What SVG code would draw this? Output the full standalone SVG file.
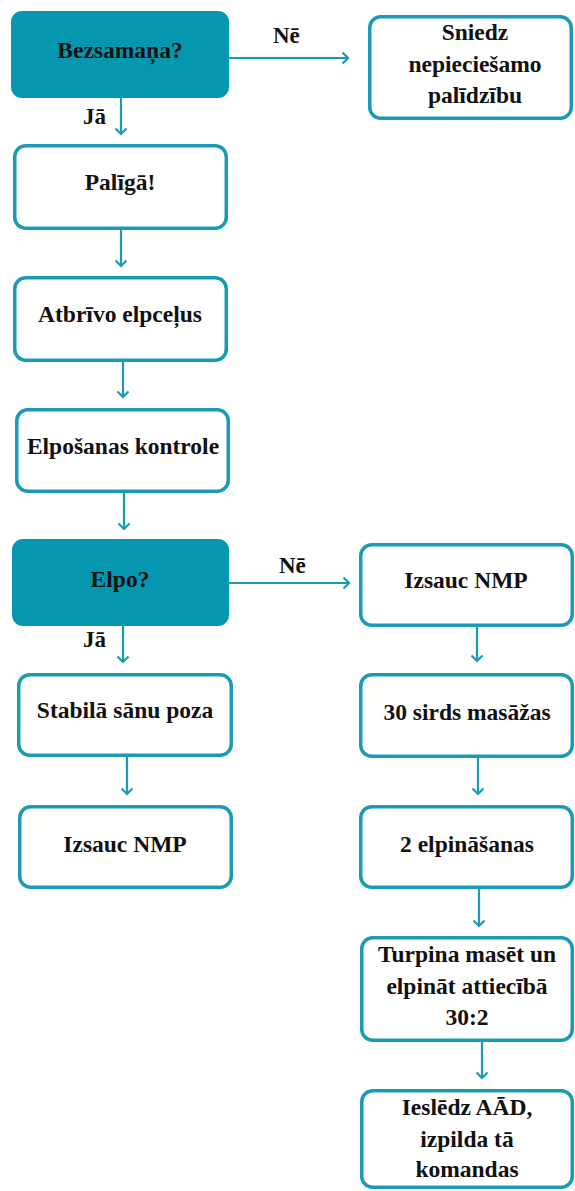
<svg xmlns="http://www.w3.org/2000/svg" width="575" height="1191" viewBox="0 0 575 1191">
<style>
.box{fill:#ffffff;stroke:#1a9bb5;stroke-width:3.5}
.dec{fill:#0596b0;stroke:none}
.t{font-family:'Liberation Serif','DejaVu Serif',serif;font-weight:700;font-size:23.5px;fill:#111111;text-anchor:middle}
.lbl{font-family:'Liberation Serif','DejaVu Serif',serif;font-weight:700;font-size:23px;fill:#111111}
.c{stroke:#1a9bb5;stroke-width:2.2;fill:none}
</style>
<defs>
<marker id="ah" markerUnits="userSpaceOnUse" markerWidth="14" markerHeight="14" viewBox="0 0 14 14" refX="7" refY="7" orient="auto">
<path d="M1.5,1.5 L7,7 L1.5,12.5" fill="none" stroke="#1a9bb5" stroke-width="2.2"/>
</marker>
</defs>
<g id="connectors">
<line class="c" x1="229" y1="58" x2="348" y2="58" marker-end="url(#ah)"/>
<line class="c" x1="121" y1="98" x2="121" y2="134" marker-end="url(#ah)"/>
<line class="c" x1="121" y1="230" x2="121" y2="266" marker-end="url(#ah)"/>
<line class="c" x1="123" y1="362" x2="123" y2="397" marker-end="url(#ah)"/>
<line class="c" x1="124" y1="493" x2="124" y2="529" marker-end="url(#ah)"/>
<line class="c" x1="229" y1="583" x2="349" y2="583" marker-end="url(#ah)"/>
<line class="c" x1="123" y1="626" x2="123" y2="662" marker-end="url(#ah)"/>
<line class="c" x1="127" y1="757" x2="127" y2="794" marker-end="url(#ah)"/>
<line class="c" x1="477" y1="627" x2="477" y2="661" marker-end="url(#ah)"/>
<line class="c" x1="478" y1="758" x2="478" y2="794" marker-end="url(#ah)"/>
<line class="c" x1="479" y1="889" x2="479" y2="926" marker-end="url(#ah)"/>
<line class="c" x1="482" y1="1042" x2="482" y2="1078" marker-end="url(#ah)"/>
<text class="lbl" x="273" y="43">Nē</text>
<text class="lbl" x="83" y="124">Jā</text>
<text class="lbl" x="279" y="573">Nē</text>
<text class="lbl" x="83" y="647">Jā</text>
</g>
<g id="n_bezsamana">
<rect class="dec" x="11" y="11" width="218" height="87" rx="11"/>
<text class="t" x="120" y="58">Bezsamaņa?</text>
</g>
<g id="n_sniedz">
<rect class="box" x="369.75" y="16.75" width="201.5" height="101.5" rx="11"/>
<text class="t" x="475" y="40">Sniedz</text>
<text class="t" x="475" y="72">nepieciešamo</text>
<text class="t" x="475" y="103">palīdzību</text>
</g>
<g id="n_paliga">
<rect class="box" x="14.75" y="145.75" width="211.5" height="82.5" rx="11"/>
<text class="t" x="120" y="190">Palīgā!</text>
</g>
<g id="n_atbrivo">
<rect class="box" x="14.75" y="277.75" width="211.5" height="82.5" rx="11"/>
<text class="t" x="120" y="322">Atbrīvo elpceļus</text>
</g>
<g id="n_elposanas">
<rect class="box" x="16.75" y="409.75" width="211.5" height="81.5" rx="11"/>
<text class="t" x="123" y="454">Elpošanas kontrole</text>
</g>
<g id="n_elpo">
<rect class="dec" x="12" y="539" width="217" height="87" rx="11"/>
<text class="t" x="120" y="587">Elpo?</text>
</g>
<g id="n_stabila">
<rect class="box" x="18.75" y="674.75" width="212.5" height="80.5" rx="11"/>
<text class="t" x="125" y="718">Stabilā sānu poza</text>
</g>
<g id="n_izsauc_left">
<rect class="box" x="19.75" y="806.75" width="211.5" height="80.5" rx="11"/>
<text class="t" x="125" y="852">Izsauc NMP</text>
</g>
<g id="n_izsauc_right">
<rect class="box" x="360.75" y="544.75" width="211.5" height="80.5" rx="11"/>
<text class="t" x="466" y="588">Izsauc NMP</text>
</g>
<g id="n_30sirds">
<rect class="box" x="360.75" y="674.75" width="211.5" height="81.5" rx="11"/>
<text class="t" x="467" y="720">30 sirds masāžas</text>
</g>
<g id="n_2elp">
<rect class="box" x="360.75" y="806.75" width="211.5" height="80.5" rx="11"/>
<text class="t" x="467" y="852">2 elpināšanas</text>
</g>
<g id="n_turpina">
<rect class="box" x="361.75" y="937.75" width="210.5" height="102.5" rx="11"/>
<text class="t" x="467" y="962">Turpina masēt un</text>
<text class="t" x="467" y="994">elpināt attiecībā</text>
<text class="t" x="467" y="1025">30:2</text>
</g>
<g id="n_iesledz">
<rect class="box" x="361.75" y="1090.75" width="210.5" height="96.5" rx="11"/>
<text class="t" x="467" y="1115">Ieslēdz AĀD,</text>
<text class="t" x="467" y="1147">izpilda tā</text>
<text class="t" x="467" y="1177">komandas</text>
</g>
</svg>
